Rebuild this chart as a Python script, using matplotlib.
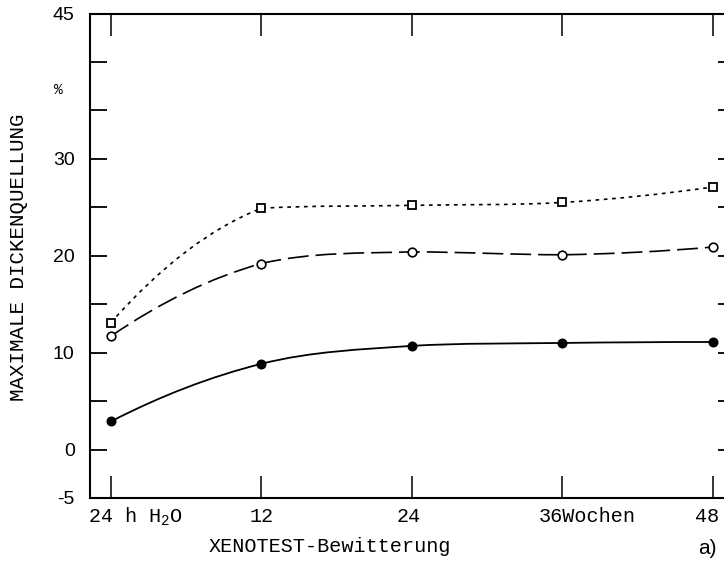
import numpy as np
import matplotlib
matplotlib.use('Agg')
import matplotlib.pyplot as plt
from matplotlib.path import Path
from matplotlib.patches import PathPatch
from matplotlib.transforms import offset_copy

# data
weeks = [0, 12, 24, 36, 48]
week_labels = ['24 h H$_\\mathregular{2}$O', '12', '24', '36Wochen', '48']
filled = [2.9, 8.85, 10.7, 11.0, 11.1]
circles = [11.7, 19.2, 20.4, 20.1, 20.9]
squares = [13.1, 24.9, 25.2, 25.5, 27.1]
y_ticks = list(range(-5, 50, 5))
y_labelled = [-5, 0, 10, 20, 30, 45]

# label layout (offset in px from the tick, alignment)
label_dx = [-23, 0, -3, -24, -6]
label_ha = ['left', 'center', 'center', 'left', 'center']


def smooth_path(x, y):
    # hand-drawn-like curve through the points, as bezier segments
    # (tangent may change at a point, like the french-curve original)
    x = np.asarray(x, float)
    y = np.asarray(y, float)
    h = np.diff(x)
    d = np.diff(y) / h
    n = len(y)
    m_in = np.zeros(n)
    m_out = np.zeros(n)
    for i in range(1, n - 1):
        g = (d[i - 1] + d[i]) / 2
        if np.sign(g) == np.sign(d[i - 1]):
            m_in[i] = np.sign(g) * min(abs(g), 3 * abs(d[i - 1]))
        if np.sign(g) == np.sign(d[i]):
            m_out[i] = np.sign(g) * min(abs(g), 3 * abs(d[i]))
    m_out[0] = 2 * d[0] - m_in[1]
    if np.sign(m_out[0]) != np.sign(d[0]):
        m_out[0] = 0.0
    m_in[-1] = 2 * d[-1] - m_out[-2]
    if np.sign(m_in[-1]) != np.sign(d[-1]):
        m_in[-1] = 0.0

    verts = [(x[0], y[0])]
    codes = [Path.MOVETO]
    for i in range(n - 1):
        verts += [(x[i] + h[i] / 3, y[i] + m_out[i] * h[i] / 3),
                  (x[i + 1] - h[i] / 3, y[i + 1] - m_in[i + 1] * h[i] / 3),
                  (x[i + 1], y[i + 1])]
        codes += [Path.CURVE4] * 3
    return Path(verts, codes)


plt.rcParams['font.family'] = 'Liberation Mono'

fig = plt.figure(figsize=(7.24, 5.62), dpi=100)
ax = fig.add_axes([90 / 724, 1 - 498 / 562, 634 / 724, (498 - 13.5) / 562])
ax.set_xlim(-1.67, 48.88)
ax.set_ylim(-5, 45)

# curves
ax.add_patch(PathPatch(smooth_path(weeks, filled), fill=False, lw=1.3, color='black'))
ax.add_patch(PathPatch(smooth_path(weeks, circles), fill=False, lw=1.2, color='black',
                       linestyle=(0, (12.5, 4.2))))
ax.add_patch(PathPatch(smooth_path(weeks, squares), fill=False, lw=1.2, color='black',
                       linestyle=(0, (2.2, 2.8))))

ax.plot(weeks, filled, 'o', ms=6.2, color='black', zorder=5)
ax.plot(weeks, circles, 'o', ms=6.2, mfc='white', mec='black', mew=1.2, zorder=5)
ax.plot(weeks, squares, 's', ms=5.8, mfc='white', mec='black', mew=1.3, zorder=5)

# axes styling
for side in ['left', 'top', 'bottom']:
    ax.spines[side].set_linewidth(1.5)
ax.spines['right'].set_visible(False)

ax.set_xticks(weeks)
ax.set_xticklabels([])
ax.tick_params(axis='x', direction='in', top=True, bottom=True, length=16, width=1.1)

ax.set_yticks(y_ticks)
ax.set_yticklabels([str(v) if v in y_labelled else '' for v in y_ticks])
ax.tick_params(axis='y', direction='in', left=True, right=False, length=12, width=1.3,
               pad=11, labelsize=14)
for lab in ax.get_yticklabels():
    lab.set_fontfamily('Liberation Sans')

ax2 = ax.twinx()
ax2.set_ylim(-5, 45)
ax2.set_yticks(range(0, 45, 5))
ax2.tick_params(direction='in', length=4, width=1.3, labelright=False)
for side in ax2.spines:
    ax2.spines[side].set_visible(False)

for wk, text, dx, ha in zip(weeks, week_labels, label_dx, label_ha):
    tr = offset_copy(ax.get_xaxis_transform(), fig=fig, x=dx, y=0, units='dots')
    ax.text(wk, -0.05, text, transform=tr, ha=ha, va='baseline', fontsize=14.5)

fig.text(330 / 724, 10 / 562, 'XENOTEST-Bewitterung', ha='center', va='baseline', fontsize=14.5)
fig.text(19 / 724, 1 - 257.5 / 562, 'MAXIMALE DICKENQUELLUNG', rotation=90,
         ha='center', va='center', fontsize=15)
fig.text(58 / 724, 1 - 90 / 562, '%', ha='center', va='center', fontsize=10.5)
fig.text(707 / 724, 8 / 562, 'a)', ha='center', va='baseline', fontsize=15,
         family='Liberation Sans')

fig.savefig('out.png', dpi=100)
